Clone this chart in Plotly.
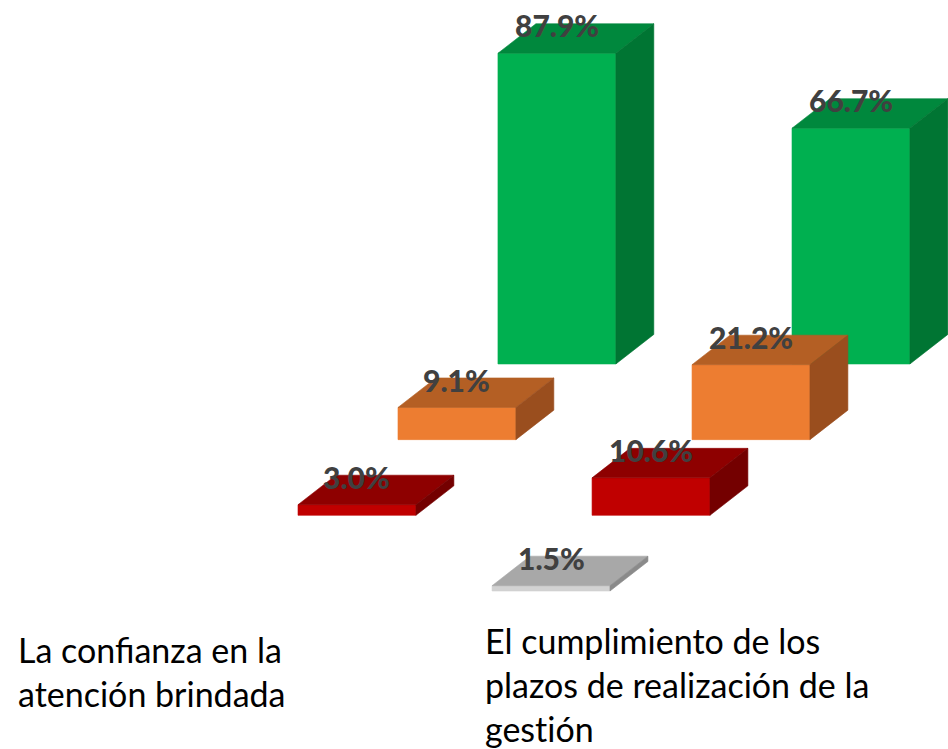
import plotly.graph_objects as go

# Categories and series values (percent)
categories = [
    "La confianza en la<br>atención brindada",
    "El cumplimiento de los<br>plazos de realización de la<br>gest\u200ción",
]
green_vals = [87.9, 66.7]
orange_vals = [9.1, 21.2]
red_vals = [3.0, 10.6]
gray_vals = [None, 1.5]

# Depth rows, front (row 0) to back (row 3): values and face colours (front, top, side)
rows = [
    (gray_vals, ("#D2D2D2", "#A8A8A8", "#8A8A8A")),
    (red_vals, ("#C00000", "#8E0000", "#740000")),
    (orange_vals, ("#ED7D31", "#B45F24", "#9A4E1E")),
    (green_vals, ("#00B050", "#00883D", "#007533")),
]

# Oblique projection parameters (x in category units, y in percent units)
BAR_W = 0.401
ROW_DX = 0.340
ROW_DY = 21.41
DEPTH_DX = 0.129
DEPTH_DY = 8.35
LABEL_OFFSET = 7.9

fig = go.Figure()


def face(xs, ys, color):
    fig.add_trace(go.Scatter(
        x=xs + [xs[0]], y=ys + [ys[0]], mode="lines", fill="toself",
        fillcolor=color, line=dict(color=color, width=0.6),
        hoverinfo="skip", showlegend=False,
    ))


labels = []
for r in range(len(rows) - 1, -1, -1):
    vals, (c_front, c_top, c_side) = rows[r]
    for c, v in enumerate(vals):
        if v is None:
            continue
        xl = c + r * ROW_DX - BAR_W / 2
        xr = xl + BAR_W
        yb = r * ROW_DY
        yt = yb + v
        face([xl, xr, xr, xl], [yb, yb, yt, yt], c_front)
        face([xl, xr, xr + DEPTH_DX, xl + DEPTH_DX],
             [yt, yt, yt + DEPTH_DY, yt + DEPTH_DY], c_top)
        face([xr, xr + DEPTH_DX, xr + DEPTH_DX, xr],
             [yb, yb + DEPTH_DY, yt + DEPTH_DY, yt], c_side)
        labels.append(dict(
            x=(xl + xr) / 2, y=yt + LABEL_OFFSET, text=f"{v:.1f}%",
            showarrow=False, xanchor="center", yanchor="middle",
            font=dict(family="Lato", size=30, color="#404040", weight=900),
        ))

# Category captions under the bars
cat_x = [-0.820, 0.769]
cat_y = [-10.2, -7.7]
for x, y, txt in zip(cat_x, cat_y, categories):
    labels.append(dict(
        x=x, y=y, text=txt, showarrow=False, xanchor="left",
        yanchor="top", align="left",
        font=dict(family="Lato", size=34, color="#000000"),
    ))

fig.update_layout(
    width=948, height=749, autosize=False,
    margin=dict(l=0, r=0, t=0, b=0),
    paper_bgcolor="white", plot_bgcolor="white",
    xaxis=dict(range=[-0.874, 2.350], visible=False, fixedrange=True),
    yaxis=dict(range=[-44.7, 167.2], visible=False, fixedrange=True),
    annotations=labels,
    showlegend=False,
)

fig.write_html("out.html")
